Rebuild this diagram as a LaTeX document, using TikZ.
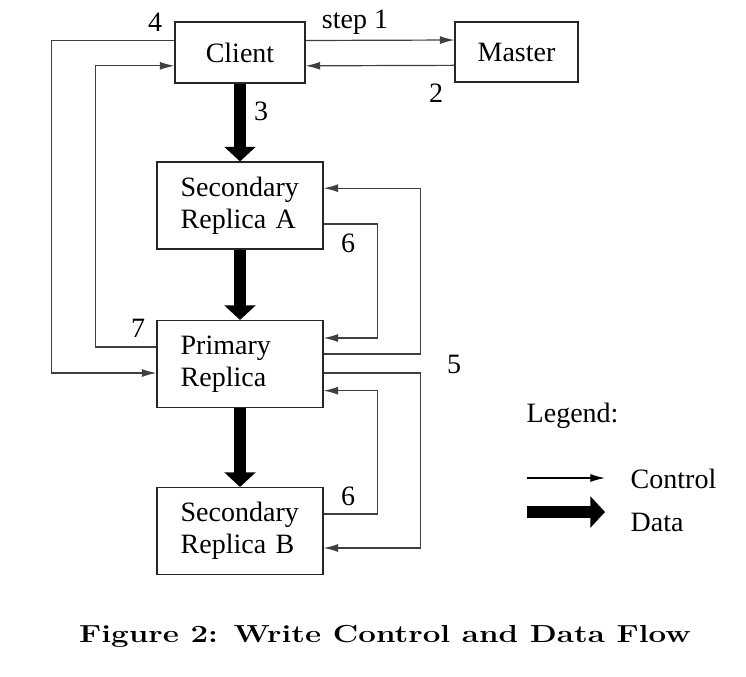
\documentclass[tikz,border=0pt]{standalone}
\usepackage{fontspec}
\newfontfamily\diagfont{Liberation Serif}
\usepackage{tikz}
\usetikzlibrary{arrows.meta, positioning}

\begin{document}
\begin{tikzpicture}[x=0.75pt, y=-0.75pt,
    font=\diagfont\fontsize{21}{24}\selectfont,
    box/.style={draw=black!85, line width=0.8pt, inner sep=0pt, align=center,
        minimum width=124.5pt, minimum height=65.25pt},
    replica/.style={box, inner xsep=17.75pt, text width=89pt, align=left},
    ctrl/.style={draw=black!75, line width=0.9pt, -{Latex[length=11pt, width=6pt]}},
    data/.style={line width=9pt, -{Triangle[length=11pt, width=23pt]}}]
    \useasboundingbox (0,0) rectangle (746,676);

    % 1. Các hộp
    \node[box, minimum width=97.5pt, minimum height=45.75pt] (client) at (240,52.5) {Client};
    \node[box, minimum width=92.25pt, minimum height=45pt] (master) at (516.5,52) {Master};
    \node[replica] (secA) at (240,205.5) {Secondary\\Replica A};
    \node[replica] (primary) at (240,364) {Primary\\Replica};
    \node[replica] (secB) at (240,531) {Secondary\\Replica B};

    % 2. Luồng dữ liệu
    \draw[data] (client.south) -- (secA.north);
    \draw[data] (secA.south) -- (primary.north);
    \draw[data] (primary.south) -- (secB.north);

    % 3. Luồng điều khiển
    \draw[ctrl] ([yshift=9pt]client.east) -- ([yshift=9pt]master.west);
    \draw[ctrl] ([yshift=-10pt]master.west) -- ([yshift=-10pt]client.east);
    \draw[ctrl] ([yshift=9pt]client.west) -- ++(-123,0) |- ([yshift=-6.75pt]primary.west);
    \draw[ctrl] ([yshift=12.75pt]primary.west) -- ++(-61,0) |- ([yshift=-10pt]client.west);
    \draw[ctrl] ([yshift=7.5pt]primary.east) -- ++(97,0) |- ([yshift=13pt]secA.east);
    \draw[ctrl] ([yshift=-6.75pt]primary.east) -- ++(97,0) |- ([yshift=-12.75pt]secB.east);
    \draw[ctrl] ([yshift=-13.9pt]secA.east) -- ++(54,0) |- ([yshift=19.5pt]primary.east);
    \draw[ctrl] ([yshift=12.75pt]secB.east) -- ++(54,0) |- ([yshift=-20pt]primary.east);

    % 4. Nhãn các bước
    \node (lbl1) at (355,22) {step 1};
    \node (lbl2) at (436,93) {2};
    \node (lbl3) at (261,111) {3};
    \node (lbl4) at (155,22) {4};
    \node (lbl5) at (454,364) {5};
    \node (lbl6a) at (348,243) {6};
    \node (lbl6b) at (348,496) {6};
    \node (lbl7) at (138,328) {7};

    % 5. Chú giải
    \node[anchor=west] (legend) at (522,416) {Legend:};
    \coordinate (ctrlA) at (527,478);
    \coordinate (ctrlB) at (605,478);
    \coordinate (dataA) at (527,512);
    \coordinate (dataB) at (605,512);
    \draw[ctrl, draw=black] (ctrlA) -- (ctrlB);
    \draw[data] (dataA) -- (dataB);
    \node[anchor=west] (ctrltxt) at (626,479) {Control};
    \node[anchor=west] (datatxt) at (626,522) {Data};

    % 6. Chú thích hình
    \node[font=\rmfamily\bfseries\fontsize{18.5}{22}\selectfont] (caption) at (385,636)
        {\scalebox{1.27}[1]{Figure 2: Write Control and Data Flow}};
\end{tikzpicture}
\end{document}
